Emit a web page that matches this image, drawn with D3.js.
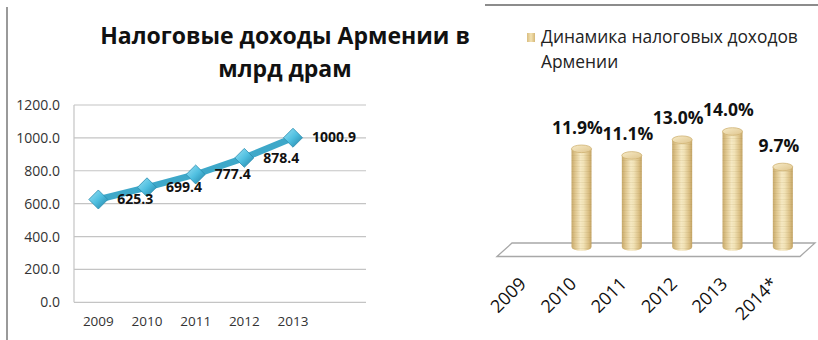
<!DOCTYPE html>
<html>
<head>
<meta charset="utf-8">
<script src="https://cdn.jsdelivr.net/npm/d3@7"></script>
<style>
  html, body { margin: 0; padding: 0; background: #fff; }
  svg { display: block; font-family: "Open Sans", "Noto Sans", sans-serif; }
</style>
</head>
<body>
<svg id="chart" width="818" height="340"></svg>
<script>
// Tax revenue of Armenia, bln AMD
const revYears = ["2009", "2010", "2011", "2012", "2013", "2014"];
const revValues = [625.3, 699.4, 777.4, 878.4, 1000.9, null];
const revTicks = [0, 200, 400, 600, 800, 1000, 1200];
const revTitle = ["Налоговые доходы Армении в", "млрд драм"];

// Growth of tax revenue, %
const growthYears = ["2009", "2010", "2011", "2012", "2013", "2014*"];
const growthValues = [null, 11.9, 11.1, 13.0, 14.0, 9.7];
const growthLegend = ["Динамика налоговых доходов", "Армении"];

const svg = d3.select("#chart");
const defs = svg.append("defs");

// Fit a text element's font size so its rendered width equals target
function fitWidth(sel, target) {
  const w = sel.node().getComputedTextLength();
  const fs = parseFloat(sel.attr("font-size"));
  sel.attr("font-size", (fs * target / w).toFixed(2));
}

// ---------- frame lines ----------
svg.append("line").attr("x1", 7).attr("x2", 7).attr("y1", 7).attr("y2", 340)
  .attr("stroke", "#9a9a9a").attr("stroke-width", 2);
svg.append("line").attr("x1", 485).attr("x2", 818).attr("y1", 5).attr("y2", 5)
  .attr("stroke", "#8c8c8c").attr("stroke-width", 2);

// ---------- left: line chart ----------
const L = { left: 74, right: 366, top: 105, bottom: 302.3 };
const xL = d3.scaleBand().domain(revYears).range([L.left, L.right]);
const yL = d3.scaleLinear().domain([0, 1200]).range([L.bottom, L.top]);

const t1 = svg.append("text").attr("x", 285).attr("y", 44).attr("text-anchor", "middle")
  .attr("font-weight", 700).attr("font-size", 24).attr("fill", "#111").text(revTitle[0]);
fitWidth(t1, 370);
svg.append("text").attr("x", 285).attr("y", 77).attr("text-anchor", "middle")
  .attr("font-weight", 700).attr("font-size", t1.attr("font-size")).attr("fill", "#111").text(revTitle[1]);

// grid
svg.append("g").selectAll("line").data(revTicks).join("line")
  .attr("x1", L.left).attr("x2", L.right)
  .attr("y1", d => yL(d)).attr("y2", d => yL(d))
  .attr("stroke", "#c4c4c4").attr("stroke-width", 1.2);
svg.append("line").attr("x1", L.left).attr("x2", L.left)
  .attr("y1", L.top).attr("y2", L.bottom).attr("stroke", "#c4c4c4").attr("stroke-width", 1.2);

// y axis labels
const yAxis = d3.axisLeft(yL).tickValues(revTicks).tickFormat(d3.format(".1f")).tickSize(0).tickPadding(14);
svg.append("g").attr("transform", `translate(${L.left},0)`).call(yAxis)
  .call(g => g.select(".domain").remove())
  .call(g => g.selectAll("text").attr("font-size", 14).attr("fill", "#333")
    .attr("font-family", "'Open Sans', sans-serif"));

// x axis labels
const xAxis = d3.axisBottom(xL).tickValues(revYears.slice(0, 5)).tickSize(0).tickPadding(0);
svg.append("g").attr("transform", `translate(0,${L.bottom + 14})`).call(xAxis)
  .call(g => g.select(".domain").remove())
  .call(g => g.selectAll("text").attr("font-size", 13.5).attr("fill", "#333")
    .attr("font-family", "'Open Sans', sans-serif"));

const pts = revYears.map((y, i) => ({ year: y, v: revValues[i] })).filter(d => d.v != null);
const cx = d => xL(d.year) + xL.bandwidth() / 2;

const diaGrad = defs.append("linearGradient").attr("id", "dia").attr("x1", 0).attr("y1", 0).attr("x2", 1).attr("y2", 1);
diaGrad.append("stop").attr("offset", 0).attr("stop-color", "#9be2f5");
diaGrad.append("stop").attr("offset", 0.5).attr("stop-color", "#4fbfe0");
diaGrad.append("stop").attr("offset", 1).attr("stop-color", "#1f7fa3");

svg.append("path").datum(pts)
  .attr("d", d3.line().x(cx).y(d => yL(d.v)))
  .attr("fill", "none").attr("stroke", "#3ea8c9").attr("stroke-width", 6.5)
  .attr("stroke-linejoin", "round").attr("stroke-linecap", "round");

svg.append("g").selectAll("path").data(pts).join("path")
  .attr("d", d3.symbol(d3.symbolDiamond2, 230)())
  .attr("transform", d => `translate(${cx(d)},${yL(d.v)})`)
  .attr("fill", "url(#dia)").attr("stroke", "#2a8db0").attr("stroke-width", 0.8);

svg.append("g").selectAll("text").data(pts).join("text")
  .attr("x", d => cx(d) + 19).attr("y", d => yL(d.v) + 1)
  .attr("dominant-baseline", "middle")
  .attr("font-size", 14).attr("font-weight", 700).attr("fill", "#111")
  .text(d => d.v.toFixed(1));

// ---------- right: 3D cylinder chart ----------
const xR = d3.scaleBand().domain(growthYears).range([506, 808]);
const yR = d3.scaleLinear().domain([0, 15]).range([247, 123.25]);
const ccx = d => xR(d.year) + xR.bandwidth() / 2;
const rx = 10, ry = 3.8;

// floor
svg.append("path")
  .attr("d", d3.line()([[497, 256.5], [512, 243], [815, 243], [800, 256.5]]) + "Z")
  .attr("fill", "#fff").attr("stroke", "#a8a8a8").attr("stroke-width", 1.3);

// cylinder fills
const bodyGrad = defs.append("linearGradient").attr("id", "body").attr("x1", 0).attr("x2", 1).attr("y1", 0).attr("y2", 0);
[[0, "#c8aa6c"], [0.18, "#dfc68e"], [0.45, "#f6e9c3"], [0.6, "#f2e3b7"], [0.85, "#dbc085"], [1, "#c3a363"]]
  .forEach(([o, c]) => bodyGrad.append("stop").attr("offset", o).attr("stop-color", c));
const capGrad = defs.append("linearGradient").attr("id", "cap").attr("x1", 0).attr("x2", 1).attr("y1", 0).attr("y2", 1);
capGrad.append("stop").attr("offset", 0).attr("stop-color", "#f7ebc8");
capGrad.append("stop").attr("offset", 1).attr("stop-color", "#dfc58d");
const stripes = defs.append("pattern").attr("id", "stripes").attr("patternUnits", "userSpaceOnUse")
  .attr("width", 40).attr("height", 11);
[[1, 0.09], [3.5, 0.05], [6, 0.11], [8.5, 0.06]].forEach(([y, o]) =>
  stripes.append("rect").attr("x", 0).attr("y", y).attr("width", 40).attr("height", 1)
    .attr("fill", "#8a6a2c").attr("opacity", o));

const bars = growthYears.map((y, i) => ({ year: y, v: growthValues[i] })).filter(d => d.v != null);
const cyl = svg.append("g").selectAll("g").data(bars).join("g");
const cylPath = d => {
  const x = ccx(d), yt = yR(d.v), yb = yR(0);
  return `M${x - rx},${yt} L${x - rx},${yb} A${rx},${ry} 0 0 0 ${x + rx},${yb} L${x + rx},${yt} Z`;
};
cyl.append("path").attr("d", cylPath).attr("fill", "url(#body)");
cyl.append("path").attr("d", cylPath).attr("fill", "url(#stripes)");
cyl.append("ellipse").attr("cx", ccx).attr("cy", d => yR(d.v)).attr("rx", rx).attr("ry", ry)
  .attr("fill", "url(#cap)").attr("stroke", "#cfb274").attr("stroke-width", 0.8);

svg.append("g").selectAll("text").data(bars).join("text")
  .attr("x", d => ccx(d) - 4).attr("y", d => yR(d.v) - 20)
  .attr("text-anchor", "middle").attr("dominant-baseline", "middle")
  .attr("font-size", 17.5).attr("font-weight", 700).attr("fill", "#111")
  .text(d => d.v.toFixed(1) + "%");

// rotated category labels
svg.append("g").selectAll("text").data(growthYears).join("text")
  .attr("transform", d => `translate(${xR(d) + xR.bandwidth() / 2 - 4},285) rotate(-45)`)
  .attr("text-anchor", "end").attr("font-size", 18).attr("fill", "#111")
  .text(d => d);

// legend
const lg = defs.append("linearGradient").attr("id", "lg").attr("x1", 0).attr("x2", 1);
lg.append("stop").attr("offset", 0).attr("stop-color", "#d9bd80");
lg.append("stop").attr("offset", 0.5).attr("stop-color", "#f3e2b2");
lg.append("stop").attr("offset", 1).attr("stop-color", "#d5b777");
svg.append("rect").attr("x", 527).attr("y", 33).attr("width", 8).attr("height", 9).attr("fill", "url(#lg)");
const lt = svg.append("text").attr("x", 541).attr("y", 43).attr("font-size", 17).attr("fill", "#222")
  .text(growthLegend[0]);
fitWidth(lt, 257);
svg.append("text").attr("x", 541).attr("y", 68).attr("font-size", lt.attr("font-size")).attr("fill", "#222")
  .text(growthLegend[1]);
</script>
</body>
</html>
